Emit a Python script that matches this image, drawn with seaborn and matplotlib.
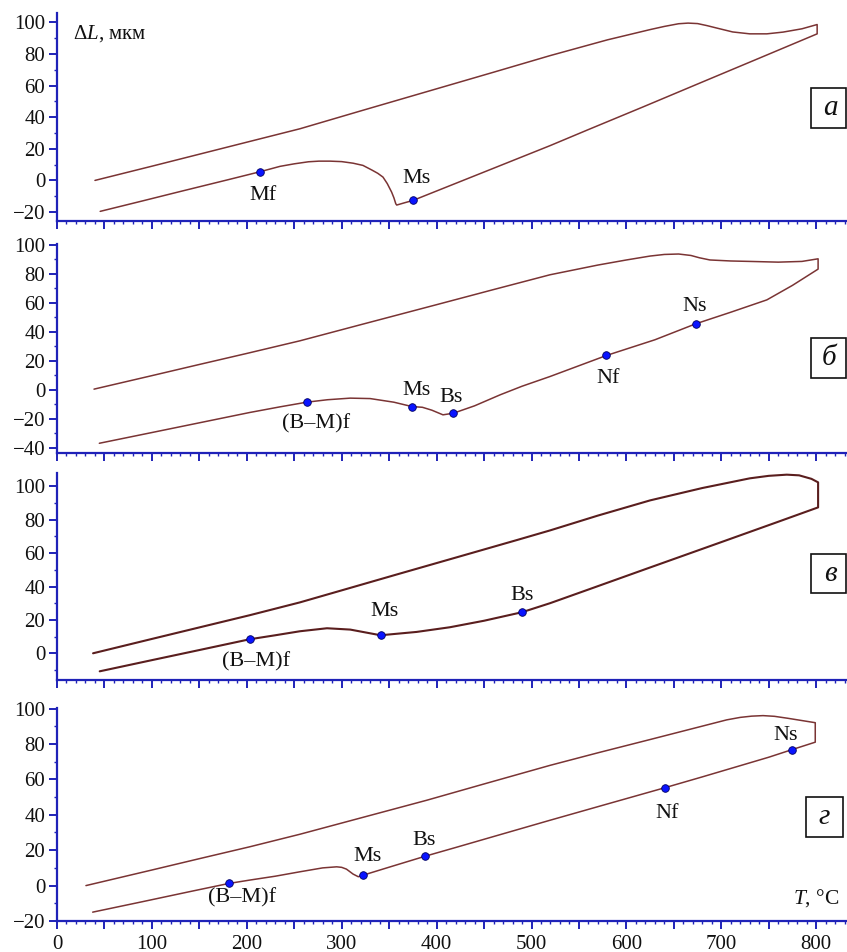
import numpy as np
import pandas as pd
import matplotlib
matplotlib.use("Agg")
import matplotlib.pyplot as plt
from matplotlib.ticker import MultipleLocator
from matplotlib.patches import Rectangle
import seaborn as sns

sns.set_style("white")
plt.rcParams['font.family'] = ['Liberation Serif', 'DejaVu Serif']
plt.rcParams['mathtext.fontset'] = 'custom'
plt.rcParams['mathtext.rm'] = 'Liberation Serif'
plt.rcParams['mathtext.it'] = 'Liberation Serif:italic'

# ---------------- data ----------------
# panel а
a_up_T = [40, 100, 150, 200, 256, 320, 400, 460, 519.5, 580, 625, 640, 655, 665, 675, 685, 695, 712, 730, 748, 765, 785, 801]
a_up_L = [0, 9, 16.6, 24.2, 32.7, 44, 58, 68.5, 79, 89, 95.5, 97.5, 99.2, 99.6, 99.3, 98, 96.5, 94, 92.8, 92.8, 93.9, 96, 98.7]
a_dn_T = [801, 740, 680, 617, 560, 519.5, 460, 420, 390, 375, 366, 358, 357, 355, 352.6, 348, 343.5, 338, 332, 322.4, 312, 300, 287.7, 276, 265, 250, 235, 214, 180, 130, 90, 45.5]
a_dn_L = [92.8, 77.4, 62.3, 46.4, 32.2, 22, 7.7, -1.9, -9.1, -12.7, -14.2, -15.6, -14.8, -11, -7.4, -2, 2.1, 4.5, 6.5, 9.5, 10.9, 11.9, 12.2, 12.2, 11.8, 10.5, 8.9, 5.5, 0.4, -7, -13, -19.6]
a_pts_T = [214, 375]
a_pts_L = [5.5, -12.7]
a_pts_lab = ["Mf", "Ms"]

# panel б
b_up_T = [39, 100, 150, 200, 256, 320, 400, 460, 519.5, 570, 600, 625, 640, 655, 668, 677, 688, 710, 730, 760, 785, 802]
b_up_L = [0.5, 9.8, 17.5, 25.1, 33.8, 44.9, 58.7, 69.1, 79.3, 86, 89.5, 92.2, 93.3, 93.6, 92.6, 91, 89.5, 88.8, 88.5, 88, 88.5, 90.3]
b_dn_T = [802, 775, 748, 710, 673, 630, 579, 519.5, 490, 467, 440, 417.6, 406.7, 395, 385, 374, 355, 330, 309, 285, 263, 235, 203, 150, 100, 44.6]
b_dn_L = [83.2, 72, 62, 53.5, 45.5, 34.5, 23.7, 9.2, 2.5, -3.4, -11, -16.1, -17.2, -14, -12, -11.5, -8.5, -6, -5.7, -6.8, -8.5, -11.7, -15.6, -22.7, -29.4, -36.8]
b_pts_T = [263, 374, 417.6, 579, 673]
b_pts_L = [-8.5, -11.5, -16.1, 23.7, 45.5]
b_pts_lab = ["(B–M)f", "Ms", "Bs", "Nf", "Ns"]

# panel в
v_up_T = [38, 100, 150, 203, 256, 300, 361, 420, 485, 519.5, 570, 625, 680, 730, 750, 769, 782, 795, 802]
v_up_L = [0, 8.6, 15.5, 22.8, 30.5, 37.7, 47.7, 57.3, 67.9, 73.6, 82.5, 91.6, 99, 104.8, 106.3, 107, 106.6, 104.5, 102.4]
v_dn_T = [802, 760, 700, 660, 620, 560, 519.5, 490, 450, 414, 379, 341, 325, 309, 284.5, 256, 230, 203, 150, 100, 45]
v_dn_L = [87.4, 78.8, 66.6, 58.5, 50.4, 38.2, 30, 24.6, 19.5, 15.6, 12.8, 10.8, 12.5, 14.2, 15, 13.2, 10.8, 8.4, 1.95, -4.1, -10.8]
v_pts_T = [203, 341, 490]
v_pts_L = [8.4, 10.8, 24.6]
v_pts_lab = ["(B–M)f", "Ms", "Bs"]

# panel г
g_up_T = [30.5, 100, 150, 203, 256, 320, 389.6, 450, 519.5, 570, 625, 705.7, 720, 732, 744, 756, 770, 799]
g_up_L = [0, 8.8, 15.2, 21.9, 29, 38.2, 48.2, 57.4, 67.9, 75, 82.5, 93.6, 95, 95.7, 96, 95.6, 94.5, 92]
g_dn_T = [799, 774, 750, 726.7, 680, 640.7, 580, 519.5, 460, 420, 388, 350, 322.7, 317.5, 312, 305, 300, 294.7, 280, 256, 230, 203, 181, 140, 90, 37.6]
g_dn_L = [81, 76.7, 72.5, 68.8, 61.4, 55.3, 46.1, 36.9, 27.7, 21.5, 16.6, 10.4, 5.9, 5, 6.5, 9.3, 10.3, 10.6, 10, 7.8, 5.3, 3.1, 1.2, -3.4, -9.1, -15]
g_pts_T = [181, 322.7, 388, 640.7, 774]
g_pts_L = [1.2, 5.9, 16.6, 55.3, 76.7]
g_pts_lab = ["(B–M)f", "Ms", "Bs", "Nf", "Ns"]

# label text positions (baseline, centred)
a_lab_pos = [(217, -12.7), (379, -1.7)]
b_lab_pos = [(272.7, -26.4), (378.6, -3.4), (415, -8.1), (581, 4.6), (671.6, 54.5)]
v_lab_pos = [(209.5, -7.8), (344.6, 22.2), (490, 32.1)]
g_lab_pos = [(195, -9.7), (327, 14), (386.7, 23.2), (642.5, 38.4), (767.5, 82.5)]

panel_names = ["а", "б", "в", "г"]

# ---------------- figure ----------------
W, H = 847, 952
fig = plt.figure(figsize=(W / 100, H / 100), dpi=100)

def fy(py):
    return 1 - py / H

left = 57 / W
# (top px, bottom px, ylim)
layout = [
    (13, 221, (-25.7, 106)),
    (244, 453, (-43.5, 100.5)),
    (473, 680, (-16, 108)),
    (708, 921, (-20, 100.3)),
]
panels = [
    (a_up_T, a_up_L, a_dn_T, a_dn_L, a_pts_T, a_pts_L, a_pts_lab, a_lab_pos),
    (b_up_T, b_up_L, b_dn_T, b_dn_L, b_pts_T, b_pts_L, b_pts_lab, b_lab_pos),
    (v_up_T, v_up_L, v_dn_T, v_dn_L, v_pts_T, v_pts_L, v_pts_lab, v_lab_pos),
    (g_up_T, g_up_L, g_dn_T, g_dn_L, g_pts_T, g_pts_L, g_pts_lab, g_lab_pos),
]
boxes = [
    (811, 88, 846, 128, 830, 108),
    (811, 338, 846, 378, 829, 358),
    (811, 554, 846, 593, 830, 574),
    (806, 797, 843, 837, 824, 817),
]

spine_col = '#1f22b8'
line_col = '#7a3434'
axes = []
for i, ((tp, bp, yl), pdata) in enumerate(zip(layout, panels)):
    ax = fig.add_axes([left, fy(bp), 1 - left, (bp - tp) / H])
    axes.append(ax)
    upT, upL, dnT, dnL, pT, pL, plab, lpos = pdata
    df = pd.DataFrame({"T": list(upT) + list(dnT), "L": list(upL) + list(dnL)})
    lw = 1.5 if i == 2 else 1.1
    lc = '#5a1e1e' if i == 2 else line_col
    sns.lineplot(data=df, x="T", y="L", sort=False, estimator=None, ax=ax,
                 color=lc, lw=lw)
    ax.lines[-1].set_solid_joinstyle('round')
    pdf = pd.DataFrame({"T": pT, "L": pL})
    sns.scatterplot(data=pdf, x="T", y="L", ax=ax, color='#0a14ff', s=30,
                    edgecolor='#000060', linewidth=0.6, zorder=5)
    for lab, (tx, ty) in zip(plab, lpos):
        ax.text(tx, ty, lab, ha='center', va='baseline', fontsize=16, color='#111111')

    ax.set_xlim(0, (W - 57) / 0.949)
    ax.set_ylim(*yl)
    ax.set_xlabel("")
    ax.set_ylabel("")
    ax.set_facecolor('none')
    for s in ['top', 'right']:
        ax.spines[s].set_visible(False)
    for s in ['left', 'bottom']:
        ax.spines[s].set_color(spine_col)
        ax.spines[s].set_linewidth(1.6)
    ax.xaxis.set_major_locator(MultipleLocator(50))
    ax.xaxis.set_minor_locator(MultipleLocator(10))
    ax.yaxis.set_major_locator(MultipleLocator(20))
    ax.yaxis.set_minor_locator(MultipleLocator(10))
    ax.tick_params(axis='both', which='major', direction='out', length=6, width=1.4,
                   color=spine_col, labelsize=15, labelcolor='#111111', pad=2.5)
    ax.tick_params(axis='both', which='minor', direction='out', length=2.5, width=1.0,
                   color=spine_col)
    ax.tick_params(axis='both', which='both', left=True, bottom=True)
    yt = np.arange(-40, 101, 20)
    ax.set_yticks(yt[(yt >= yl[0] - 0.5) & (yt <= yl[1] + 0.5)])
    if i < 3:
        ax.tick_params(axis='x', labelbottom=False)
    else:
        ax.set_xticks(np.arange(0, 801, 50))
        ax.set_xticklabels([str(v) if v % 100 == 0 else "" for v in range(0, 801, 50)])
        ax.tick_params(axis='x', pad=4)

    # panel letter boxes
    x0, y0, x1, y1, tx, ty = boxes[i]
    fig.add_artist(Rectangle((x0 / W, fy(y1)), (x1 - x0) / W, (y1 - y0) / H,
                             transform=fig.transFigure, fill=True, facecolor='white',
                             edgecolor='#111111', linewidth=1.2))
    fig.text(tx / W, fy(ty), panel_names[i], ha='center', va='center',
             fontsize=21, style='italic', color='#111111')

axes[0].text(17, 90, r'$\Delta L$, мкм', ha='left', va='baseline', fontsize=15, color='#111111')
axes[3].text(825, -10, r'$T$, °C', ha='right', va='baseline', fontsize=15.5, color='#111111')

fig.savefig("out.png", dpi=100)
